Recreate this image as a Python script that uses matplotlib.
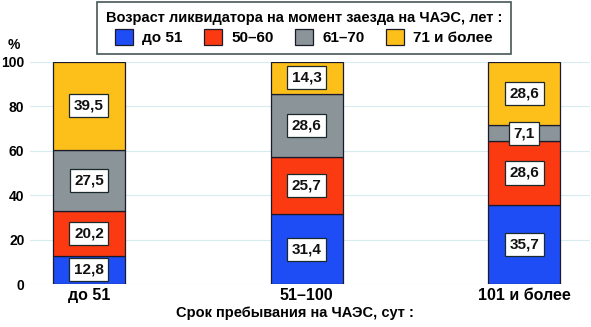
import matplotlib
matplotlib.use("Agg")
import matplotlib.pyplot as plt
import numpy as np

plt.rcParams['font.family'] = ['Liberation Sans', 'DejaVu Sans']
plt.rcParams['font.weight'] = 'bold'

categories = ["до 51", "51–100", "101 и более"]
series_names = ["до 51", "50–60", "61–70", "71 и более"]
s_to51 = [12.8, 31.4, 35.7]
s_50_60 = [20.2, 25.7, 28.6]
s_61_70 = [27.5, 28.6, 7.1]
s_71plus = [39.5, 14.3, 28.6]
series = [s_to51, s_50_60, s_61_70, s_71plus]
colors = ["#1F4DF5", "#FB3A12", "#8A9499", "#FDBF1A"]
yticks = [0, 20, 40, 60, 80, 100]

fig = plt.figure(figsize=(5.91, 3.27), dpi=100)
ax = fig.add_axes([30/591, 1-284/327, 560/591, 222/327])

x = np.arange(len(categories))
bottom = np.zeros(len(categories))
for vals, col, name in zip(series, colors, series_names):
    vals = np.array(vals)
    ax.bar(x, vals, 0.331, bottom=bottom, color=col, edgecolor="#1a1a2a", linewidth=0.9, label=name, zorder=2)
    for xi, b, v in zip(x, bottom, vals):
        ax.text(xi, b + v/2, f"{v:.1f}".replace('.', ','), ha='center', va='center', fontsize=11,
                fontweight='bold', color='#111111', zorder=3,
                bbox=dict(boxstyle='square,pad=0.3', fc='white', ec='#1a2a2a', lw=0.9))
    bottom += vals

ax.set_xlim(-0.271, 2.303)
ax.set_ylim(0, 100)
ax.set_yticks(yticks)
ax.set_yticklabels([str(t) for t in yticks], fontsize=10, fontweight='bold')
ax.set_xticks(x)
ax.set_xticklabels(categories, fontsize=11.5, fontweight='bold')
ax.tick_params(axis='x', length=0, pad=3)
ax.tick_params(axis='y', length=0, pad=4)
for s in ax.spines.values():
    s.set_visible(False)
ax.grid(axis='y', color='#d8ecf0', linewidth=0.8, zorder=0)
ax.set_axisbelow(True)

fig.text(14/591, 1-45/327, "%", ha='center', va='center', fontsize=10, fontweight='bold')
fig.text(295/591, 1-313/327, "Срок пребывания на ЧАЭС, сут :", ha='center', va='center', fontsize=10.5, fontweight='bold')

leg = fig.legend(loc='center', bbox_to_anchor=(304/591, 1-28/327), ncol=4, frameon=True,
                 title="Возраст ликвидатора на момент заезда на ЧАЭС, лет :",
                 prop={'size': 11, 'weight': 'bold'}, title_fontproperties={'size': 10.5, 'weight': 'bold'},
                 handlelength=1.18, handleheight=1.18, handletextpad=0.6, columnspacing=1.4,
                 fancybox=False, edgecolor='#1a2a2a', borderpad=0.55, labelspacing=0.3)
leg.get_frame().set_linewidth(1.2)
for h in leg.legend_handles:
    h.set_linewidth(0.9)

fig.savefig("out.png", dpi=100)
